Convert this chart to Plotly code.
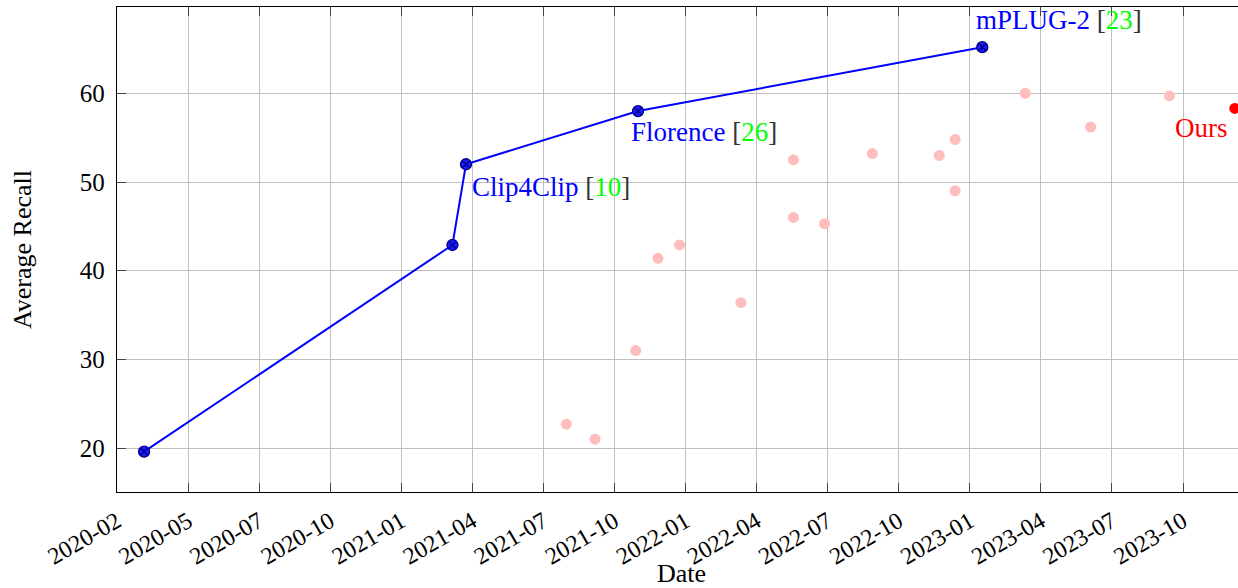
import plotly.graph_objects as go
import pandas as pd

# ---- data ----
SOTA_DATES = ["2020-03-06", "2021-03-28", "2021-04-14", "2021-11-16", "2023-01-22"]
SOTA_VALUES = [19.6, 42.9, 52.0, 58.0, 65.2]

OTHER_DATES = ["2021-08-18", "2021-09-23", "2021-11-13", "2021-12-11", "2022-01-07",
               "2022-03-25", "2022-05-30", "2022-05-30", "2022-07-08", "2022-09-06",
               "2022-11-29", "2022-12-19", "2022-12-19", "2023-03-17", "2023-06-07",
               "2023-09-14"]
OTHER_VALUES = [22.7, 21.0, 31.0, 41.4, 42.9, 36.4, 46.0, 52.5, 45.3, 53.2,
                53.0, 54.8, 49.0, 60.0, 56.2, 59.7]

OURS_DATES = ["2023-12-05"]
OURS_VALUES = [58.3]

TICK_LABELS = ["2020-02", "2020-05", "2020-07", "2020-10", "2021-01", "2021-04",
               "2021-07", "2021-10", "2022-01", "2022-04", "2022-07", "2022-10",
               "2023-01", "2023-04", "2023-07", "2023-10"]
Y_TICKS = [20, 30, 40, 50, 60]

X_TITLE = "Date"
Y_TITLE = "Average Recall"

# labelled points: (index into SOTA arrays, name, reference number, xshift, yshift, xanchor)
LABELS = [
    (2, "Clip4Clip", "10", 4, -23, "left"),
    (3, "Florence", "26", -9, -21, "left"),
    (4, "mPLUG-2", "23", -8, 27, "left"),
]

tick_vals = [d.strftime("%Y-%m-%d %H:%M") for d in
             pd.date_range("2020-02-01", "2023-10-01", periods=len(TICK_LABELS))]

FONT = "Liberation Serif, Times New Roman, serif"

fig = go.Figure()

fig.add_trace(go.Scatter(
    x=OTHER_DATES, y=OTHER_VALUES, mode="markers",
    marker=dict(color="#ffbdbd", size=11, line=dict(width=0)),
    showlegend=False, hoverinfo="x+y"))

fig.add_trace(go.Scatter(
    x=SOTA_DATES, y=SOTA_VALUES, mode="lines+markers",
    line=dict(color="#0000ff", width=2),
    marker=dict(symbol="circle-x", size=11, color="#1a1aff",
                line=dict(color="#000080", width=1.3)),
    showlegend=False))

fig.add_trace(go.Scatter(
    x=OURS_DATES, y=OURS_VALUES, mode="markers",
    marker=dict(color="#ff0000", size=11),
    showlegend=False, cliponaxis=False))

for idx, name, ref, xs, ys, xa in LABELS:
    fig.add_annotation(
        x=SOTA_DATES[idx], y=SOTA_VALUES[idx], xref="x", yref="y",
        text=(f"<span style='color:#0000ff'>{name} </span>"
              f"<span style='color:#333333'>[</span>"
              f"<span style='color:#00ff00'>{ref}</span>"
              f"<span style='color:#333333'>]</span>"),
        showarrow=False, xanchor=xa, yanchor="middle",
        xshift=xs, yshift=ys, font=dict(family=FONT, size=27, color="#0000ff"))

fig.add_annotation(
    x=OURS_DATES[0], y=OURS_VALUES[0], xref="x", yref="y",
    text="Ours", showarrow=False, xanchor="right", yanchor="middle",
    xshift=-5, yshift=-20, font=dict(family=FONT, size=27, color="#ff0000"))

# x-axis title placed below the rotated tick labels
fig.add_annotation(
    x=0.504, y=0, xref="paper", yref="paper", text=X_TITLE, showarrow=False,
    xanchor="center", yanchor="middle", yshift=-81,
    font=dict(family=FONT, size=26, color="black"))

fig.update_layout(
    width=1238, height=588,
    margin=dict(l=117, r=0, t=7, b=96),
    paper_bgcolor="white", plot_bgcolor="white",
    font=dict(family=FONT, size=24, color="black"),
)

fig.update_xaxes(
    type="date", automargin=False,
    range=["2020-02-01", "2023-12-09"],
    tickvals=tick_vals, ticktext=TICK_LABELS, tickangle=-30,
    tickfont=dict(family=FONT, size=24, color="black"),
    ticks="inside", ticklen=9, tickcolor="#444444", tickwidth=1,
    showline=True, linecolor="black", linewidth=1.3, mirror="ticks",
    showgrid=True, gridcolor="#c0c0c0", gridwidth=1,
    zeroline=False, ticklabelstandoff=5,
)

fig.update_yaxes(
    automargin=False,
    range=[15.05, 69.73],
    tickvals=Y_TICKS,
    tickfont=dict(family=FONT, size=25, color="black"),
    ticks="inside", ticklen=9, tickcolor="#444444", tickwidth=1,
    showline=True, linecolor="black", linewidth=1.3, mirror=False,
    showgrid=True, gridcolor="#c0c0c0", gridwidth=1,
    zeroline=False, ticklabelstandoff=6,
    title=dict(text=Y_TITLE, font=dict(family=FONT, size=26), standoff=40),
)

fig.write_html(
    "out.html",
    config={"displayModeBar": False},
    post_script="document.body.style.margin='0';document.body.style.overflow='hidden';",
)
